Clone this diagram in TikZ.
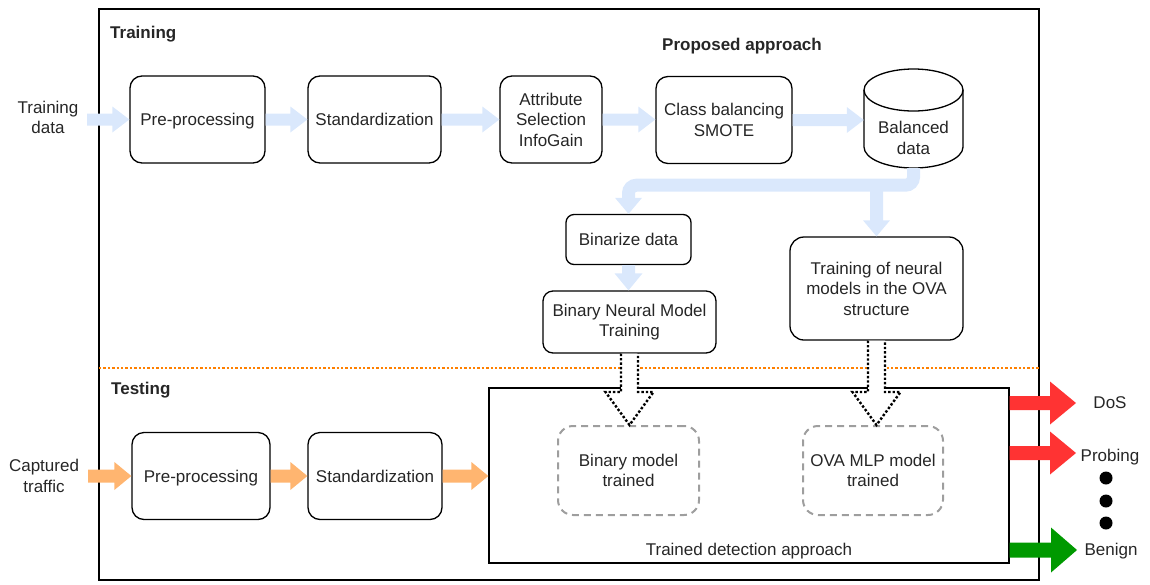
\documentclass[tikz,border=0pt]{standalone}
\usepackage{fontspec}
\setmainfont{Liberation Sans}
\usetikzlibrary{calc}
\definecolor{lblue}{HTML}{DAE8FC}
\definecolor{lorange}{HTML}{FFB570}
\definecolor{dotorange}{HTML}{FF8000}
\definecolor{redc}{HTML}{FF3333}
\definecolor{greenc}{HTML}{009900}
\definecolor{dgray}{HTML}{9E9E9E}
% horizontal block arrow: fill, from, to, shaft half, head half, head length
\newcommand\harrow[6]{%
  \fill[#1] let \p1=(#2), \p2=(#3) in
    (\x1,{\y1+#4}) -- ({\x2-#6},{\y1+#4}) -- ({\x2-#6},{\y1+#5}) -- (\x2,\y1)
    -- ({\x2-#6},{\y1-#5}) -- ({\x2-#6},{\y1-#4}) -- (\x1,{\y1-#4}) -- cycle;}
% vertical (downward) block arrow: fill, outline style, from, to, shaft half, head half, head length
\newcommand\varrow[7]{%
  \fill[#1] let \p1=(#3), \p2=(#4) in
    ({\x1-#5},\y1) -- ({\x1-#5},{\y2+#7}) -- ({\x1-#6},{\y2+#7}) -- (\x1,\y2)
    -- ({\x1+#6},{\y2+#7}) -- ({\x1+#5},{\y2+#7}) -- ({\x1+#5},\y1) -- cycle;
  \draw[#2] let \p1=(#3), \p2=(#4) in
    ({\x1-#5},\y1) -- ({\x1-#5},{\y2+#7}) -- ({\x1-#6},{\y2+#7}) -- (\x1,\y2)
    -- ({\x1+#6},{\y2+#7}) -- ({\x1+#5},{\y2+#7}) -- ({\x1+#5},\y1);}
\begin{document}
\begin{tikzpicture}[x=1pt,y=-1pt,
  font=\fontsize{17}{20.5}\selectfont, text=black!85,
  box/.style={draw=black, line width=1.3pt, rounded corners=12pt, fill=white, align=center, inner sep=0pt},
  dbox/.style={draw=dgray, line width=2pt, dash pattern=on 7pt off 5pt, rounded corners=15pt, align=center, inner sep=0pt},
  lbl/.style={align=center, inner sep=0pt},
  nodepth/.style={text depth=0pt},
  ttl/.style={font=\fontsize{17}{20}\selectfont\bfseries, inner sep=0pt, text depth=0pt},
  dotarrow/.style={black, line width=2.4pt, dash pattern=on 2.4pt off 2pt}]
\useasboundingbox (0,0) rectangle (1150,584);

% frame and separator
\draw[line width=1.3pt] (99,9) rectangle (1039,580);
\draw[dotorange, line width=2.4pt, dash pattern=on 2.4pt off 2pt] (99,368) -- (1039,368);

% titles
\node[ttl, anchor=west] (ttrain) at (110,32) {Training};
\node[ttl] (tprop) at (742,44) {Proposed approach};
\node[ttl, anchor=west] (ttest) at (111,388) {Testing};

% inputs
\node[lbl] (tdata) at (48,117.5) {Training\\data};
\node[lbl] (ctraf) at (44,476) {Captured\\traffic};
\coordinate (tin) at (87,119.5);
\coordinate (cin) at (88,476);

% training row
\node[box, nodepth, minimum width=135pt, minimum height=87pt] (pre1) at (197.5,119.5) {Pre-processing};
\node[box, minimum width=133pt, minimum height=87pt] (std1) at (374.5,119.5) {Standardization};
\node[box, minimum width=102pt, minimum height=87pt] (attr) at (551,119.5) {Attribute\\Selection\\InfoGain};
\node[box, minimum width=136pt, minimum height=87pt] (cls) at (724,120) {Class balancing\\SMOTE};
\node[minimum width=99pt, minimum height=99pt, inner sep=0pt] (bal) at (913.5,118.5) {};
\draw[line width=1.3pt, fill=white] (864,90) -- (864,147)
  arc[start angle=180, end angle=360, x radius=49.5pt, y radius=21pt] -- (963,90)
  arc[start angle=0, end angle=180, x radius=49.5pt, y radius=21pt] -- cycle;
\draw[line width=1.3pt] (864,90) arc[start angle=180, end angle=360, x radius=49.5pt, y radius=21pt];
\node[lbl] (baltext) at (913.5,138) {Balanced\\data};

\node[box, rounded corners=8pt, minimum width=125pt, minimum height=50pt] (binar) at (628.5,239.5) {Binarize data};
\node[box, rounded corners=10pt, minimum width=173pt, minimum height=62pt] (bnmt) at (629.5,322) {Binary Neural Model\\Training};
\node[box, rounded corners=14pt, minimum width=173pt, minimum height=103pt] (ovatr) at (876.5,288.5) {Training of neural\\models in the OVA\\structure};

% testing row
\node[box, nodepth, minimum width=138pt, minimum height=87pt] (pre2) at (201,476) {Pre-processing};
\node[box, minimum width=134pt, minimum height=87pt] (std2) at (375,476) {Standardization};
\node[draw=black, line width=1.3pt, minimum width=520pt, minimum height=175pt, inner sep=0pt] (trained) at (749,475.5) {};
\node[dbox, minimum width=141pt, minimum height=89pt] (bintr) at (628.5,470.5) {Binary model\\trained};
\node[dbox, minimum width=140pt, minimum height=89pt] (ovamt) at (873,470.5) {OVA MLP model\\trained};
\node[lbl, nodepth] (tdatext) at (749,549) {Trained detection approach};

% blue arrows (training)
\harrow{lblue}{tin}{pre1.west}{6pt}{13pt}{17pt}
\harrow{lblue}{pre1.east}{std1.west}{6pt}{13pt}{17pt}
\harrow{lblue}{std1.east}{attr.west}{6pt}{13pt}{17pt}
\harrow{lblue}{attr.east}{cls.west}{6pt}{13pt}{17pt}
\harrow{lblue}{cls.east}{bal.west |- cls.east}{6pt}{13pt}{17pt}

\coordinate (split) at ($(bal.south)+(0,17)$);
\draw[lblue, line width=13pt, rounded corners=8pt] (bal.south) -- (split) -- (split -| binar.north) -- ($(binar.north)+(0,-16)$);
\fill[lblue] ($(binar.north)+(-13.5,-16)$) -- (binar.north) -- ($(binar.north)+(13.5,-16)$) -- cycle;
\varrow{lblue}{draw=none}{ovatr.north |- split}{ovatr.north}{6.5pt}{13.5pt}{16pt}
\varrow{lblue}{draw=none}{binar.south}{bnmt.north}{6.5pt}{14pt}{17pt}

% orange arrows (testing)
\harrow{lorange}{cin}{pre2.west}{6.5pt}{14pt}{17pt}
\harrow{lorange}{pre2.east}{std2.west}{6.5pt}{14pt}{17pt}
\harrow{lorange}{std2.east}{trained.west |- std2.east}{6.5pt}{14pt}{17pt}

% dotted model transfer arrows
\varrow{white}{dotarrow}{bnmt.south}{bintr.north}{8.5pt}{24pt}{33pt}
\varrow{white}{dotarrow}{ovatr.south}{ovamt.north}{8.5pt}{24pt}{33pt}

% outputs
\node[lbl] (dos) at (1110,403) {DoS};
\node[lbl, nodepth] (prob) at (1110,455) {Probing};
\node[lbl, nodepth] (ben) at (1111,549) {Benign};
\coordinate (dostip) at (1076,403);
\coordinate (probtip) at (1076,453);
\coordinate (bentip) at (1077,550);
\harrow{redc}{trained.east |- dostip}{dostip}{7pt}{21.5pt}{26pt}
\harrow{redc}{trained.east |- probtip}{probtip}{7pt}{21.5pt}{26pt}
\harrow{greenc}{trained.east |- bentip}{bentip}{7.5pt}{22.5pt}{26pt}
\fill (1106,478) circle[radius=6.5pt];
\fill (1106,501) circle[radius=6.5pt];
\fill (1106,523) circle[radius=6.5pt];
\end{tikzpicture}
\end{document}
